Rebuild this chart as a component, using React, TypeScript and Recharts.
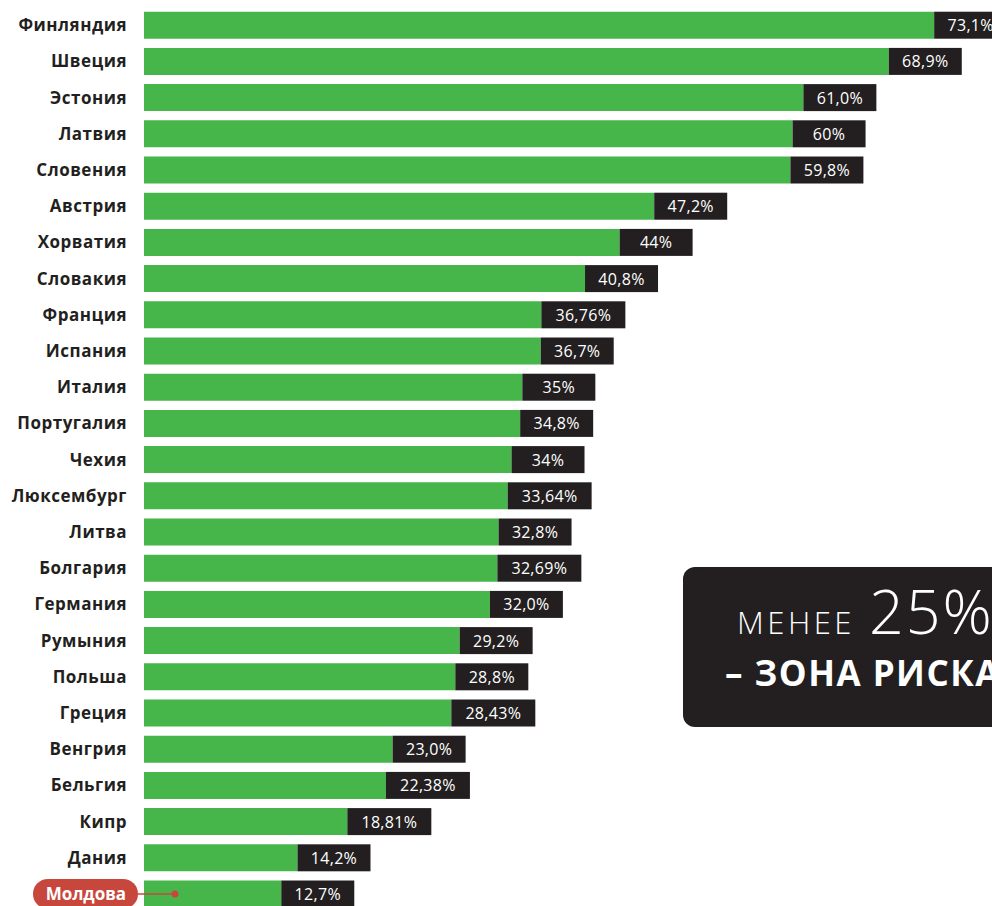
import React from "react";
import { Bar, BarChart, LabelList, XAxis, YAxis } from "recharts";

const countries = [
  "Финляндия", "Швеция", "Эстония", "Латвия", "Словения", "Австрия", "Хорватия",
  "Словакия", "Франция", "Испания", "Италия", "Португалия", "Чехия", "Люксембург",
  "Литва", "Болгария", "Германия", "Румыния", "Польша", "Греция", "Венгрия",
  "Бельгия", "Кипр", "Дания", "Молдова",
];

const values = [
  73.1, 68.9, 61.0, 60, 59.8, 47.2, 44, 40.8, 36.76, 36.7, 35, 34.8, 34, 33.64,
  32.8, 32.69, 32.0, 29.2, 28.8, 28.43, 23.0, 22.38, 18.81, 14.2, 12.7,
];

const valueLabels = [
  "73,1%", "68,9%", "61,0%", "60%", "59,8%", "47,2%", "44%", "40,8%", "36,76%",
  "36,7%", "35%", "34,8%", "34%", "33,64%", "32,8%", "32,69%", "32,0%", "29,2%",
  "28,8%", "28,43%", "23,0%", "22,38%", "18,81%", "14,2%", "12,7%",
];

const highlighted = "Молдова";

const data = countries.map((name, i) => ({ name, value: values[i], label: valueLabels[i] }));

const GREEN = "#46b64b";
const DARK = "#231f20";
const RED = "#c8473d";

function CountryTick(props: any) {
  const { x, y, payload } = props;
  if (payload.value === highlighted) {
    return (
      <g>
        <line x1={x - 6} y1={y} x2={x + 31} y2={y} stroke={RED} strokeWidth={1.5} />
        <circle cx={x + 31} cy={y} r={3.5} fill={RED} />
        <rect x={x - 111} y={y - 15} width={105} height={30} rx={15} fill={RED} />
        <text
          x={x - 58}
          y={y}
          dy={6}
          textAnchor="middle"
          fill="#fff"
          fontSize={17}
          fontWeight={700}
          fontFamily="'Open Sans', sans-serif"
        >
          {payload.value}
        </text>
      </g>
    );
  }
  return (
    <text
      x={x - 17}
      y={y}
      dy={6}
      textAnchor="end"
      fill={DARK}
      fontSize={17}
      fontWeight={700}
      letterSpacing={0.5}
      fontFamily="'Open Sans', sans-serif"
    >
      {payload.value}
    </text>
  );
}

function ValueBox(props: any) {
  const { x, y, width, height, value } = props;
  const text = String(value);
  const w = text.length >= 6 ? 84 : 73;
  const left = x + width;
  return (
    <g>
      <rect x={left} y={y} width={w} height={height} fill={DARK} />
      <text
        x={left + w / 2}
        y={y + height / 2}
        dy={6}
        textAnchor="middle"
        fill="#fff"
        fontSize={16}
        letterSpacing={0.3}
        fontFamily="'Open Sans', sans-serif"
      >
        {text}
      </text>
    </g>
  );
}

export default function App() {
  return (
    <div
      style={{
        position: "absolute",
        left: 0,
        top: 0,
        width: 992,
        height: 906,
        overflow: "hidden",
        background: "#fff",
      }}
    >
      <BarChart
        width={992}
        height={912}
        data={data}
        layout="vertical"
        margin={{ top: 7, right: 0, left: 0, bottom: 0 }}
        barCategoryGap="13%"
      >
        <XAxis type="number" domain={[0, 78.45]} hide />
        <YAxis
          type="category"
          dataKey="name"
          width={144}
          tickLine={false}
          axisLine={false}
          tickSize={0}
          tickMargin={0}
          interval={0}
          tick={<CountryTick />}
        />
        <Bar dataKey="value" fill={GREEN} isAnimationActive={false}>
          <LabelList dataKey="label" content={<ValueBox />} />
        </Bar>
      </BarChart>
      <div
        style={{
          position: "absolute",
          left: 683,
          top: 567,
          width: 340,
          height: 160,
          borderRadius: 12,
          background: DARK,
          color: "#fff",
          fontFamily: "'Open Sans', sans-serif",
        }}
      >
        <div
          style={{
            position: "absolute",
            left: 54,
            top: 74,
            whiteSpace: "nowrap",
            lineHeight: 1,
            display: "flex",
            alignItems: "baseline",
            transform: "translateY(-100%)",
          }}
        >
          <span style={{ fontSize: 31, fontWeight: 300, letterSpacing: 3.5 }}>МЕНЕЕ</span>
          <span style={{ fontSize: 61, fontWeight: 300, letterSpacing: 2, marginLeft: 14 }}>25%</span>
        </div>
        <div
          style={{
            position: "absolute",
            left: 42,
            top: 88,
            whiteSpace: "nowrap",
            fontSize: 35,
            fontWeight: 700,
            letterSpacing: 1.5,
            lineHeight: 1,
          }}
        >
          – ЗОНА РИСКА
        </div>
      </div>
    </div>
  );
}
